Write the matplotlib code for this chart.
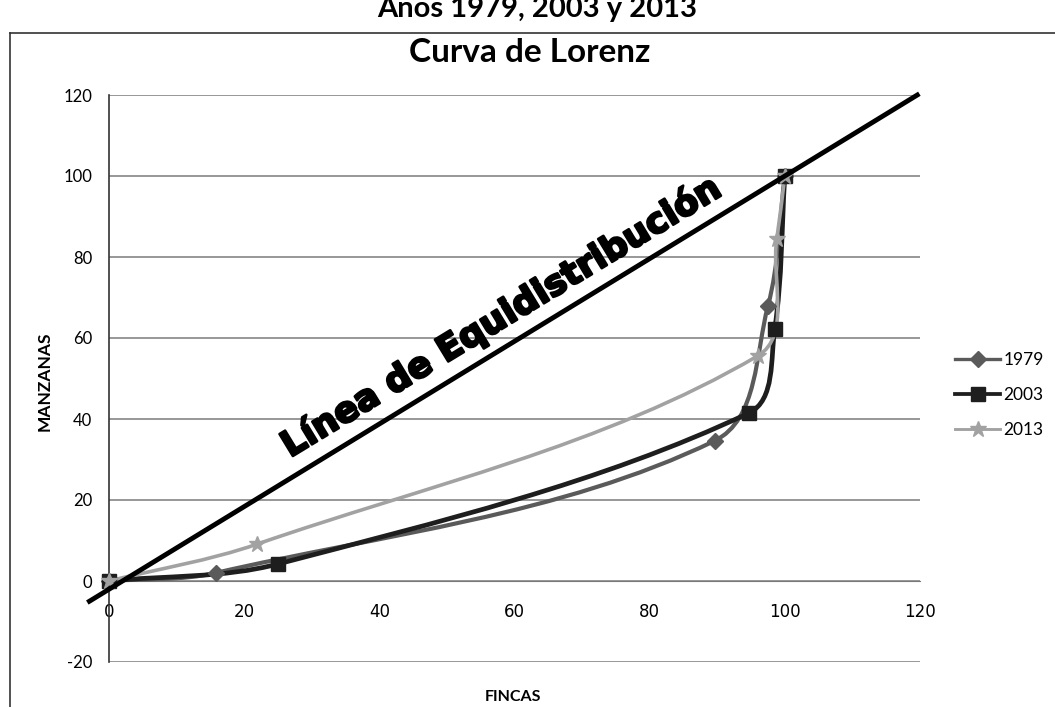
import numpy as np
import matplotlib
matplotlib.use('Agg')
import matplotlib.pyplot as plt
import matplotlib.patheffects as pe
from matplotlib.path import Path
from matplotlib.patches import PathPatch
from matplotlib.lines import Line2D

plt.rcParams['axes.unicode_minus'] = False

# datos (% fincas acumulado vs % manzanas acumulado)
years = ['1979', '2003', '2013']
fincas_1979 = [0, 15.8, 89.6, 97.5, 100]
manzanas_1979 = [0, 2.0, 34.6, 67.9, 100]
fincas_2003 = [0, 25.0, 94.7, 98.5, 100]
manzanas_2003 = [0, 4.2, 41.5, 62.2, 100]
fincas_2013 = [0, 21.9, 96.0, 98.8, 100]
manzanas_2013 = [0, 9.1, 55.6, 84.4, 100]
equi_x = [-2.9, 119.6]
equi_y = [-5, 120]
x_ticks = [0, 20, 40, 60, 80, 100, 120]
y_ticks = [-20, 0, 20, 40, 60, 80, 100, 120]

W, H = 1055, 707
fig = plt.figure(figsize=(W / 100, H / 100), dpi=100)
ax = fig.add_axes([109 / W, 1 - 662 / H, (920 - 109) / W, (662 - 95) / H])
ax.set_xlim(0, 120)
ax.set_ylim(-20, 120)


def smooth_path(ax, xs, ys):
    # curva suavizada tipo Excel (bezier entre los puntos)
    pts = ax.transData.transform(np.column_stack([xs, ys]))
    n = len(pts)
    verts = [pts[0]]
    codes = [Path.MOVETO]
    for i in range(n - 1):
        p0 = pts[max(i - 1, 0)]
        p1, p2 = pts[i], pts[i + 1]
        p3 = pts[min(i + 2, n - 1)]
        d = np.hypot(*(p2 - p1)) / 3
        t1 = (p2 - p0) / np.hypot(*(p2 - p0))
        t2 = (p3 - p1) / np.hypot(*(p3 - p1))
        verts += [p1 + t1 * d, p2 - t2 * d, p2]
        codes += [Path.CURVE4] * 3
    verts = ax.transData.inverted().transform(np.array(verts))
    return Path(verts, codes)


series = [
    (fincas_1979, manzanas_1979, '#5a5a5a', 'D', 8, 3.0),
    (fincas_2003, manzanas_2003, '#1e1e1e', 's', 10, 3.4),
    (fincas_2013, manzanas_2013, '#a2a2a2', '*', 12, 2.6),
]
handles = []
for (xs, ys, col, mk, ms, lw), yr in zip(series, years):
    ax.add_patch(PathPatch(smooth_path(ax, xs, ys), facecolor='none',
                           edgecolor=col, lw=lw, capstyle='round', zorder=3))
    ax.plot(xs, ys, linestyle='none', marker=mk, ms=ms, color=col,
            markeredgecolor=col, zorder=4, clip_on=False)
    handles.append(Line2D([], [], color=col, lw=lw * 0.8, marker=mk, ms=ms, label=yr))

# linea de equidistribucion
ax.plot(equi_x, equi_y, color='black', lw=3.5, clip_on=False, zorder=5)
ax.text(58.0, 65.2, 'Línea de Equidistribución', rotation=31.3,
        rotation_mode='anchor', ha='center', va='center', fontsize=25.5,
        fontweight='heavy', family='DejaVu Sans', zorder=6,
        path_effects=[pe.withStroke(linewidth=1.8, foreground='black')])

ax.set_xticks(x_ticks)
ax.set_yticks(y_ticks)
ax.tick_params(axis='x', length=0, pad=16, labelsize=12)
ax.tick_params(axis='y', length=0, pad=12, labelsize=12)
for lab in ax.get_xticklabels() + ax.get_yticklabels():
    lab.set_family('Lato')
ax.grid(axis='y', color='#7a7a7a', lw=1.1)
ax.set_axisbelow(True)
for s in ['top', 'right']:
    ax.spines[s].set_visible(False)
ax.spines['bottom'].set_position(('data', 0))
ax.spines['bottom'].set_color('#7a7a7a')
ax.spines['left'].set_color('#333333')
ax.spines['left'].set_linewidth(1.2)

fig.text(537 / W, 1 - 17 / H, 'Años 1979, 2003 y 2013', ha='center',
         va='baseline', fontsize=21, fontweight='bold', family='Lato')
fig.text(530 / W, 1 - 52 / H, 'Curva de Lorenz', ha='center', va='center',
         fontsize=24, fontweight='bold', family='Lato')
fig.text(45 / W, 1 - 381 / H, 'MANZANAS', rotation=90, ha='center',
         va='center', fontsize=12.5, fontweight='bold', family='Lato')
fig.text(513 / W, 1 - 697 / H, 'FINCAS', ha='center', va='center',
         fontsize=11.5, fontweight='bold', family='Lato')

# marco del area del grafico
fig.add_artist(Line2D([10 / W, 1], [1 - 33 / H] * 2, transform=fig.transFigure,
                      color='#333333', lw=1.2))
fig.add_artist(Line2D([10 / W] * 2, [0, 1 - 33 / H], transform=fig.transFigure,
                      color='#333333', lw=1.2))

leg = fig.legend(handles=handles, loc='center left',
                 bbox_to_anchor=(955 / W, 1 - 395 / H), frameon=False,
                 borderpad=0, borderaxespad=0, handlelength=2.6,
                 handletextpad=0.2, labelspacing=1.1,
                 prop={'family': 'Lato', 'size': 12.5})

fig.savefig('out.png', dpi=100)
